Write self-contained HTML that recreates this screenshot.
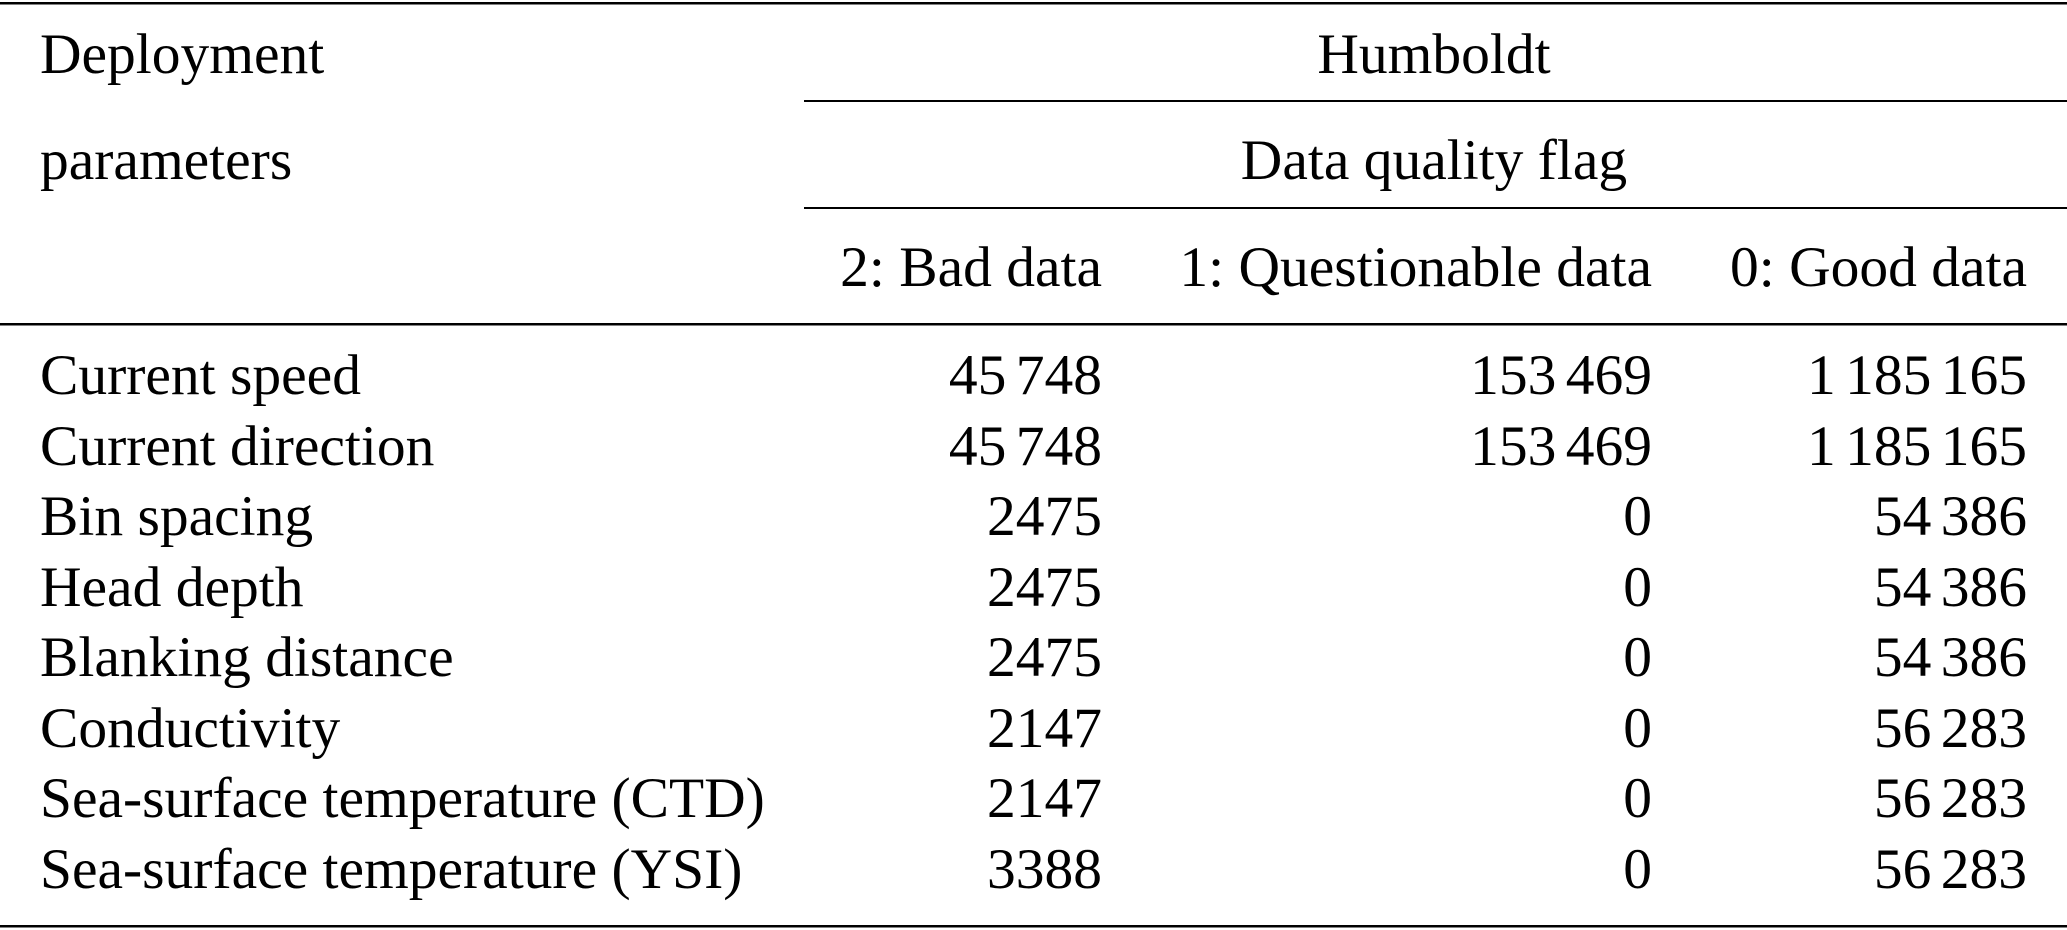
<!DOCTYPE html>
<html><head><meta charset="utf-8"><style>
html,body{margin:0;padding:0;background:#fff;}
svg{display:block;}
text{font-family:"Liberation Serif","Times New Roman",serif;font-size:57.5px;fill:#000;}
.n text{word-spacing:-5px;}
</style></head><body>
<svg width="2067" height="930" viewBox="0 0 2067 930" xmlns="http://www.w3.org/2000/svg">
<rect x="0" y="2" width="2067" height="2.5" fill="#000"/>
<rect x="804" y="100" width="1263" height="2" fill="#000"/>
<rect x="804" y="207" width="1263" height="2" fill="#000"/>
<rect x="0" y="323" width="2067" height="2.5" fill="#000"/>
<rect x="0" y="925" width="2067" height="2.5" fill="#000"/>
<text x="40" y="73">Deployment</text>
<text x="1434" y="73" text-anchor="middle">Humboldt</text>
<text x="40" y="179">parameters</text>
<text x="1434" y="179" text-anchor="middle">Data quality flag</text>
<g text-anchor="end">
<text x="1102" y="286">2: Bad data</text>
<text x="1652" y="286">1: Questionable data</text>
<text x="2027" y="286">0: Good data</text>
</g>
<g>
<text x="40" y="394">Current speed</text>
<text x="40" y="465">Current direction</text>
<text x="40" y="535">Bin spacing</text>
<text x="40" y="606">Head depth</text>
<text x="40" y="676">Blanking distance</text>
<text x="40" y="747">Conductivity</text>
<text x="40" y="817">Sea-surface temperature (CTD)</text>
<text x="40" y="888">Sea-surface temperature (YSI)</text>
</g>
<g text-anchor="end" class="n">
<text x="1102" y="394">45 748</text><text x="1652" y="394">153 469</text><text x="2027" y="394">1 185 165</text>
<text x="1102" y="465">45 748</text><text x="1652" y="465">153 469</text><text x="2027" y="465">1 185 165</text>
<text x="1102" y="535">2475</text><text x="1652" y="535">0</text><text x="2027" y="535">54 386</text>
<text x="1102" y="606">2475</text><text x="1652" y="606">0</text><text x="2027" y="606">54 386</text>
<text x="1102" y="676">2475</text><text x="1652" y="676">0</text><text x="2027" y="676">54 386</text>
<text x="1102" y="747">2147</text><text x="1652" y="747">0</text><text x="2027" y="747">56 283</text>
<text x="1102" y="817">2147</text><text x="1652" y="817">0</text><text x="2027" y="817">56 283</text>
<text x="1102" y="888">3388</text><text x="1652" y="888">0</text><text x="2027" y="888">56 283</text>
</g>
</svg>
</body></html>
